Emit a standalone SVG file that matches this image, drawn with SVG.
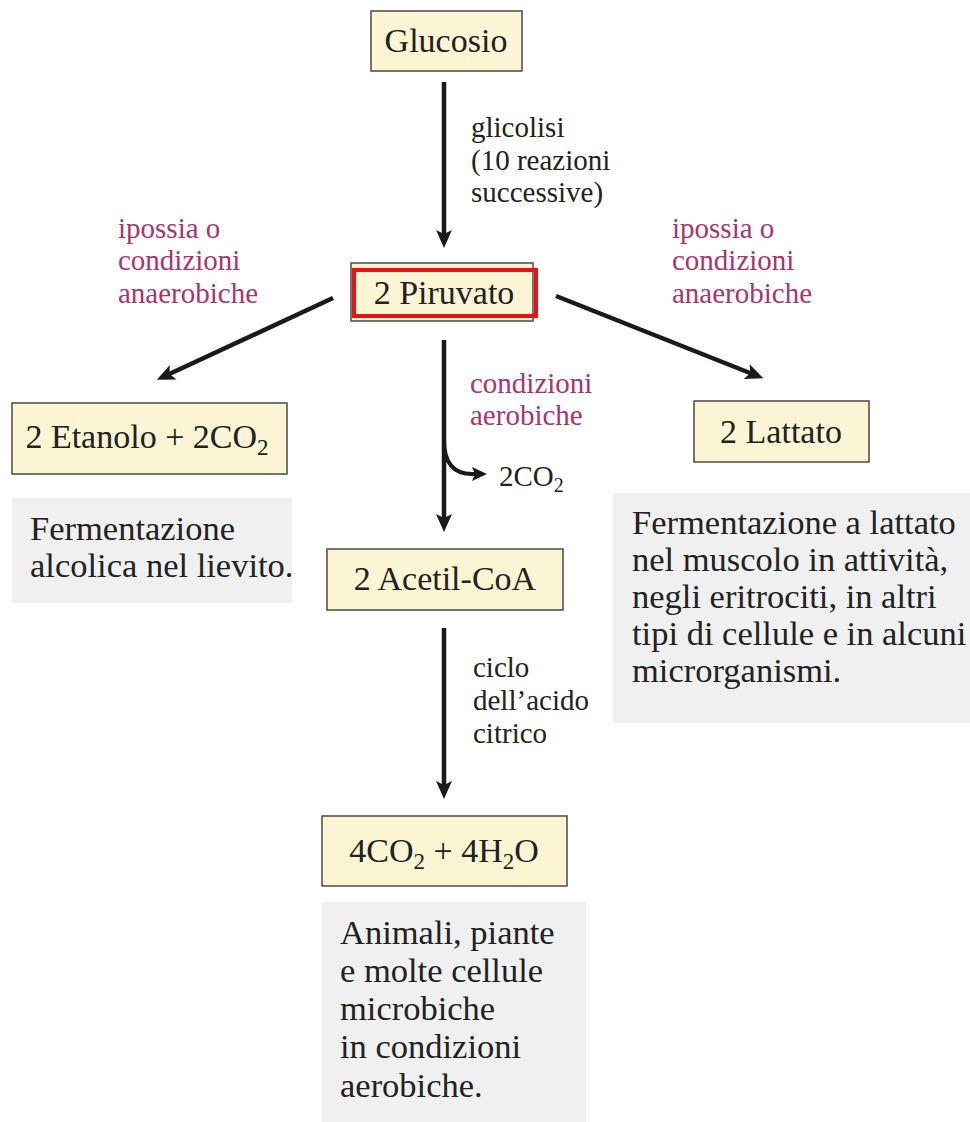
<svg xmlns="http://www.w3.org/2000/svg" width="970" height="1122" viewBox="0 0 970 1122">
<style>
.box{fill:#fcf5d3;stroke:#4a4a4a;stroke-width:1.5}
.note{fill:#f0f0f0}
.node{font-size:34px;text-anchor:middle}
.lbl{font-size:29px}
.pink{fill:#a83470}
.desc{font-size:34.5px}
.arr{stroke:#1a1a1a;stroke-width:4.5;fill:none;marker-end:url(#ah)}
</style>
<defs>
<marker id="ah" markerUnits="userSpaceOnUse" markerWidth="20" markerHeight="16" refX="9" refY="8" orient="auto" overflow="visible">
<path d="M0,0 L18,8 L0,16 L4,8 z" fill="#1a1a1a"/>
</marker>
<marker id="ahs" markerUnits="userSpaceOnUse" markerWidth="16" markerHeight="14" refX="7" refY="7" orient="auto" overflow="visible">
<path d="M0,0 L15,7 L0,14 L3,7 z" fill="#1a1a1a"/>
</marker>
</defs>
<rect width="970" height="1122" fill="#ffffff"/>

<g id="connectors">
<line class="arr" x1="444" y1="82" x2="444" y2="239"/>
<line class="arr" x1="333" y1="298" x2="165" y2="376"/>
<line class="arr" x1="556" y1="296" x2="755" y2="375"/>
<line class="arr" x1="444" y1="340" x2="444" y2="523"/>
<path d="M444,440 Q444,474 472,474 L479,474" stroke="#1a1a1a" stroke-width="4" fill="none" marker-end="url(#ahs)"/>
<line class="arr" x1="444" y1="628" x2="444" y2="790"/>
</g>

<g font-family="Liberation Serif, Noto Serif, DejaVu Serif, Times New Roman, serif" fill="#222">
<g id="label-glicolisi">
<text class="lbl" x="471" y="137">glicolisi</text>
<text class="lbl" x="471" y="170">(10 reazioni</text>
<text class="lbl" x="471" y="202">successive)</text>
</g>
<g id="label-anaerobiche-left">
<text class="lbl pink" x="118" y="238">ipossia o</text>
<text class="lbl pink" x="118" y="270">condizioni</text>
<text class="lbl pink" x="118" y="303">anaerobiche</text>
</g>
<g id="label-anaerobiche-right">
<text class="lbl pink" x="672" y="238">ipossia o</text>
<text class="lbl pink" x="672" y="270">condizioni</text>
<text class="lbl pink" x="672" y="303">anaerobiche</text>
</g>
<g id="label-aerobiche">
<text class="lbl pink" x="470" y="393">condizioni</text>
<text class="lbl pink" x="470" y="425">aerobiche</text>
</g>
<g id="label-co2">
<text class="lbl" x="499" y="486">2CO<tspan font-size="20" dy="6">2</tspan></text>
</g>
<g id="label-ciclo">
<text class="lbl" x="473" y="677">ciclo</text>
<text class="lbl" x="473" y="710">dell’acido</text>
<text class="lbl" x="473" y="743">citrico</text>
</g>

<g id="glucosio">
<rect class="box" x="371" y="11" width="151" height="60"/>
<text class="node" x="446" y="52">Glucosio</text>
</g>
<g id="piruvato">
<rect class="box" x="351" y="263" width="182" height="58"/>
<rect x="354" y="270" width="182" height="46" fill="none" stroke="#ee1111" stroke-width="4"/>
<text class="node" x="444" y="304">2 Piruvato</text>
</g>
<g id="etanolo">
<rect class="box" x="12" y="403" width="275" height="71"/>
<text class="node" x="147" y="448">2 Etanolo + 2CO<tspan font-size="23" dy="7">2</tspan></text>
</g>
<g id="lattato">
<rect class="box" x="694" y="401" width="175" height="61"/>
<text class="node" x="781" y="443">2 Lattato</text>
</g>
<g id="acetilcoa">
<rect class="box" x="327" y="549" width="236" height="61"/>
<text class="node" x="445" y="590">2 Acetil-CoA</text>
</g>
<g id="co2h2o">
<rect class="box" x="322" y="816" width="245" height="70"/>
<text class="node" x="444" y="862">4CO<tspan font-size="23" dy="7">2</tspan><tspan dy="-7"> + 4H</tspan><tspan font-size="23" dy="7">2</tspan><tspan dy="-7">O</tspan></text>
</g>

<g id="note-lievito">
<rect class="note" x="12" y="498" width="280" height="105"/>
<text class="desc" x="30" y="540">Fermentazione</text>
<text class="desc" x="30" y="577">alcolica nel lievito.</text>
</g>
<g id="note-lattato">
<rect class="note" x="613" y="493" width="357" height="230"/>
<text class="desc" x="632" y="534">Fermentazione a lattato</text>
<text class="desc" x="632" y="571">nel muscolo in attività,</text>
<text class="desc" x="632" y="608">negli eritrociti, in altri</text>
<text class="desc" x="632" y="645">tipi di cellule e in alcuni</text>
<text class="desc" x="632" y="682">microrganismi.</text>
</g>
<g id="note-aerobiche">
<rect class="note" x="322" y="902" width="264" height="220"/>
<text class="desc" x="340" y="944">Animali, piante</text>
<text class="desc" x="340" y="982">e molte cellule</text>
<text class="desc" x="340" y="1020">microbiche</text>
<text class="desc" x="340" y="1058">in condizioni</text>
<text class="desc" x="340" y="1097">aerobiche.</text>
</g>
</g>
</svg>
